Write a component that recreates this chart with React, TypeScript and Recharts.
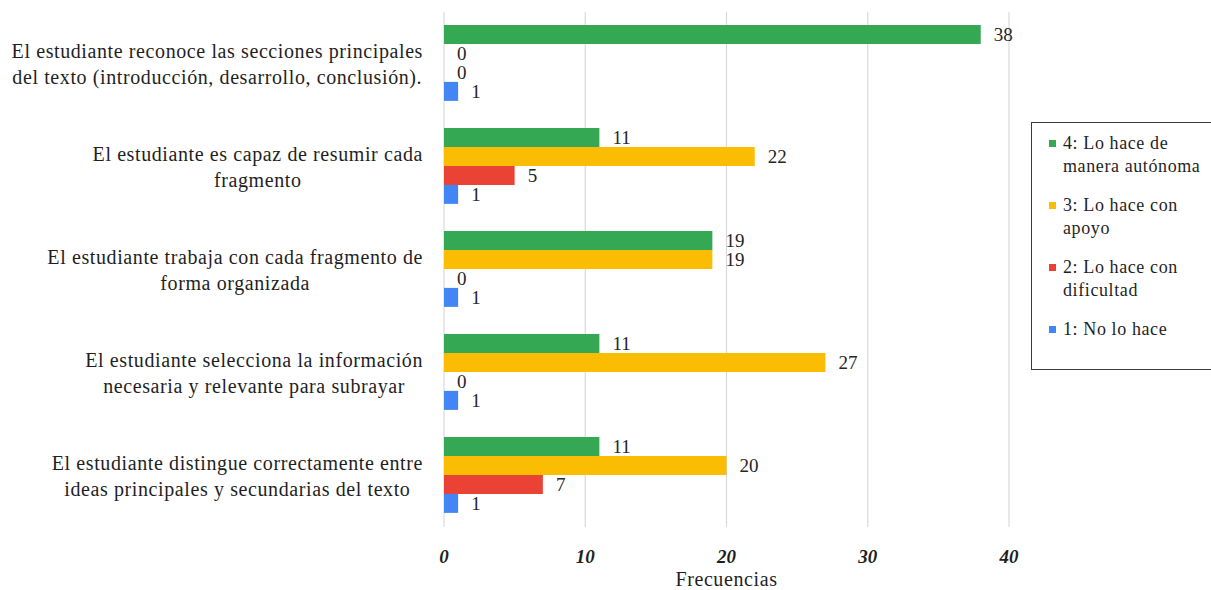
import { Bar, BarChart, CartesianGrid, LabelList, XAxis, YAxis } from 'recharts'

const categories = [
  'El estudiante reconoce las secciones principales\ndel texto (introducción, desarrollo, conclusión).',
  'El estudiante es capaz de resumir cada\nfragmento',
  'El estudiante trabaja con cada fragmento de\nforma organizada',
  'El estudiante selecciona la información\nnecesaria y relevante para subrayar',
  'El estudiante distingue correctamente entre\nideas principales y secundarias del texto',
]

const autonoma = [38, 11, 19, 11, 11]
const conApoyo = [0, 22, 19, 27, 20]
const conDificultad = [0, 5, 0, 0, 7]
const noLoHace = [1, 1, 1, 1, 1]

const xTicks = [0, 10, 20, 30, 40]

const series = [
  { key: 'autonoma', name: '4: Lo hace de\nmanera autónoma', color: '#34a853', values: autonoma },
  { key: 'apoyo', name: '3: Lo hace con\napoyo', color: '#fbbc04', values: conApoyo },
  { key: 'dificultad', name: '2: Lo hace con\ndificultad', color: '#ea4335', values: conDificultad },
  { key: 'no', name: '1: No lo hace', color: '#4285f4', values: noLoHace },
]

const data = categories.map((label, i) => {
  const row: Record<string, string | number> = { label }
  series.forEach((s) => {
    row[s.key] = s.values[i]
  })
  return row
})

const SERIF = "'Liberation Serif', Tinos, 'DejaVu Serif', serif"
const LABEL_SIZE = 20
const LABEL_SPACING = 0.6

let ctx: CanvasRenderingContext2D | null = null
function textWidth(text: string) {
  if (!ctx) ctx = document.createElement('canvas').getContext('2d')
  if (!ctx) return text.length * 9
  ctx.font = `${LABEL_SIZE}px ${SERIF}`
  return ctx.measureText(text).width + text.length * LABEL_SPACING
}

function CategoryTick({ x, y, payload }: any) {
  const lines = String(payload.value).split('\n')
  const widest = Math.max(...lines.map(textWidth))
  const cx = x - 19 - widest / 2
  return (
    <text
      textAnchor="middle"
      fill="#1f1f1f"
      style={{ fontFamily: SERIF, fontSize: LABEL_SIZE, letterSpacing: LABEL_SPACING }}
    >
      {lines.map((line, i) => (
        <tspan key={i} x={cx} y={y + (i - (lines.length - 1) / 2) * 26} dominantBaseline="central">
          {line}
        </tspan>
      ))}
    </text>
  )
}

function ValueTick({ x, y, payload }: any) {
  return (
    <text
      x={x}
      y={y + 34}
      textAnchor="middle"
      fill="#1f1f1f"
      style={{ fontFamily: SERIF, fontSize: 19, fontWeight: 'bold', fontStyle: 'italic' }}
    >
      {payload.value}
    </text>
  )
}

function LegendBox() {
  return (
    <div
      style={{
        position: 'absolute',
        left: 1031,
        top: 122,
        width: 190,
        height: 248,
        boxSizing: 'border-box',
        border: '1.5px solid #3a3a3a',
        paddingTop: 9,
        fontFamily: SERIF,
        fontSize: 18,
        letterSpacing: 0.6,
        lineHeight: '23px',
        color: '#1f1f1f',
      }}
    >
      {series.map((s) => (
        <div key={s.key} style={{ position: 'relative', paddingLeft: 31, marginBottom: 16 }}>
          <span
            style={{
              position: 'absolute',
              left: 17,
              top: 8,
              width: 7,
              height: 7,
              background: s.color,
            }}
          />
          {s.name.split('\n').map((line, i) => (
            <div key={i}>{line}</div>
          ))}
        </div>
      ))}
    </div>
  )
}

export default function App() {
  return (
    <div style={{ position: 'absolute', left: 0, top: 0, width: 1211, height: 590, background: '#fff' }}>
      <BarChart
        width={1211}
        height={590}
        data={data}
        layout="vertical"
        margin={{ top: 12, right: 202, left: 0, bottom: 0 }}
        barCategoryGap="12.5%"
        barGap={0}
      >
        <CartesianGrid horizontal={false} stroke="#d9d9d9" strokeWidth={1.2} />
        <XAxis
          type="number"
          domain={[0, 40]}
          ticks={xTicks}
          axisLine={false}
          tickLine={false}
          tickSize={0}
          height={63}
          tick={<ValueTick />}
          label={{
            value: 'Frecuencias',
            position: 'insideBottom',
            offset: 4,
            fill: '#1f1f1f',
            style: { fontFamily: SERIF, fontSize: 20, letterSpacing: 0.6 },
          }}
        />
        <YAxis
          type="category"
          dataKey="label"
          width={444}
          axisLine={false}
          tickLine={false}
          tickSize={0}
          interval={0}
          tick={<CategoryTick />}
        />
        {series.map((s) => (
          <Bar
            key={s.key}
            dataKey={s.key}
            name={s.name}
            fill={s.color}
            minPointSize={0.01}
            isAnimationActive={false}
          >
            <LabelList
              dataKey={s.key}
              position="right"
              offset={13}
              fill="#262626"
              style={{ fontFamily: SERIF, fontSize: 19 }}
            />
          </Bar>
        ))}
      </BarChart>
      <LegendBox />
    </div>
  )
}
